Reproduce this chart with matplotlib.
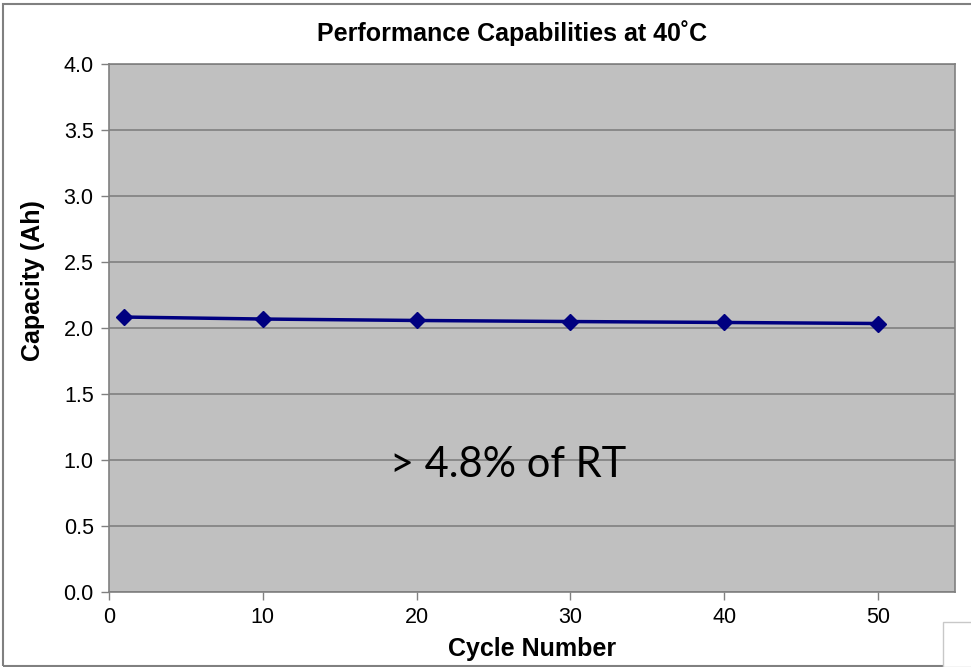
import matplotlib
matplotlib.use("Agg")
import matplotlib.pyplot as plt
from matplotlib.patches import Rectangle

# data
cycles = [1, 10, 20, 30, 40, 50]
capacity = [2.083, 2.068, 2.057, 2.049, 2.042, 2.034]
xticks = [0, 10, 20, 30, 40, 50]
yticks = [0.0, 0.5, 1.0, 1.5, 2.0, 2.5, 3.0, 3.5, 4.0]

plt.rcParams['font.family'] = ['Liberation Sans', 'DejaVu Sans']

fig = plt.figure(figsize=(9.71, 6.67), dpi=100)
ax = fig.add_axes([109/971, 1 - 592/667, (955-109)/971, (592-64)/667])

ax.set_facecolor('#C0C0C0')
ax.plot(cycles, capacity, color='#000080', linewidth=2.5, marker='D',
        markersize=8, markerfacecolor='#000080', markeredgecolor='#000080', zorder=3)

ax.set_xlim(0, 55)
ax.set_ylim(0, 4.0)
ax.set_xticks(xticks)
ax.set_yticks(yticks)
ax.set_yticklabels(['%.1f' % v for v in yticks])
ax.yaxis.grid(True, color='#808080', linewidth=1.2)
ax.set_axisbelow(True)
for s in ax.spines.values():
    s.set_color('#808080')
    s.set_linewidth(1.2)
ax.tick_params(axis='both', colors='#808080', labelcolor='black', labelsize=15.5,
               length=6, direction='out', width=1, pad=5)

fig.text(512/971, 1 - 33/667, 'Performance Capabilities at 40˚C', fontsize=18,
         fontweight='bold', ha='center', va='center')
ax.set_xlabel('Cycle Number', fontsize=18, fontweight='bold', labelpad=6.5)
ax.set_ylabel('Capacity (Ah)', fontsize=18, fontweight='bold')
ax.yaxis.set_label_coords(-0.076, 0.59)

ax.text(0.472, 0.24, '> 4.8% of RT', transform=ax.transAxes, fontsize=30,
        family=['Lato', 'DejaVu Sans'], ha='center', va='center')

# outer chart border
fig.patches.append(Rectangle((3/971, 1/667), 1.2, 1 - 5/667, transform=fig.transFigure,
                             fill=False, edgecolor='#808080', linewidth=1.5))
fig.patches.append(Rectangle((943/971, 0), 40/971, 45/667, transform=fig.transFigure,
                             fill=True, facecolor='white', edgecolor='#C8C8C8', linewidth=1))

fig.savefig('out.png', dpi=100)
